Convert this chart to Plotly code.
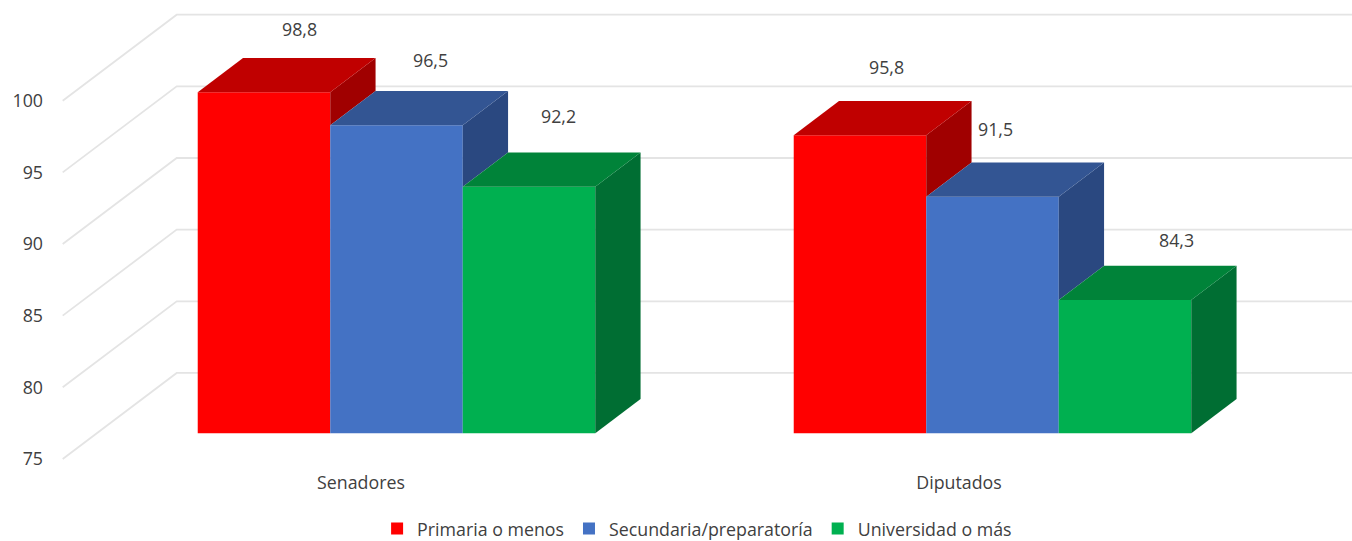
import plotly.graph_objects as go

categories = ["Senadores", "Diputados"]
series_names = ["Primaria o menos", "Secundaria/preparatoría", "Universidad o más"]
primaria = [98.8, 95.8]
secundaria = [96.5, 91.5]
universidad = [92.2, 84.3]
axis_ticks = [75, 80, 85, 90, 95, 100]

series = [primaria, secundaria, universidad]
front = ["#FF0000", "#4472C4", "#00B050"]
top = ["#C00000", "#335593", "#008339"]
side = ["#A00000", "#2A4880", "#006E33"]

W, H = 1352, 541
ML, MB = 50, 71
PH = H - MB
FONT = dict(family="Open Sans", size=17.8, color="#404040")
PPU = 14.33  # pixels per value unit

# axis mappings
cat_px0, cat_px_step = 396.5, 596.0      # bars
lab_px0, lab_px_step = 361.0, 598.0      # category labels
def x_bar(dpx): return dpx / cat_px_step
def x_lab(px): return (px - lab_px0) / lab_px_step
bar_range_x = [(ML - cat_px0) / cat_px_step, (W - cat_px0) / cat_px_step]
lab_range_x = [x_lab(ML), x_lab(W)]
y_tick_range = [100 - (PH - 100.7) / PPU, 100 + 100.7 / PPU]
y_bar_range = [75 - (PH - 433.3) / PPU, 75 + 433.3 / PPU]

BARGAP = 0.333
BW = (1 - BARGAP) / 3
DX, DV = x_bar(45.3), 34.3 / PPU      # bar depth
GRID_DV = 86 / PPU                    # wall depth

fig = go.Figure()

# walls / gridlines
for t in axis_ticks:
    fig.add_trace(go.Scatter(
        x=[x_lab(62.7), x_lab(176.7), lab_range_x[1]], y=[t, t + GRID_DV, t + GRID_DV],
        mode="lines", line=dict(color="#E4E4E4", width=1.8),
        showlegend=False, hoverinfo="skip", xaxis="x", yaxis="y"))

# bar fronts
for name, vals, col in zip(series_names, series, front):
    fig.add_trace(go.Bar(
        x=list(range(len(categories))), y=[v - 75 for v in vals], base=75, name=name,
        marker=dict(color=col, line=dict(width=0)), xaxis="x2", yaxis="y2",
        customdata=vals, hovertemplate="%{customdata}<extra>" + name + "</extra>"))

# bar top and side faces, left to right
for c in range(len(categories)):
    for s, vals in enumerate(series):
        v = vals[c]
        xl = c + (s - 1.5) * BW
        xr = xl + BW
        low = series[s + 1][c] if s < 2 else 75
        fig.add_trace(go.Scatter(
            x=[xr, xr + DX, xr + DX, xr, xr], y=[v, v + DV, low + DV, low, v],
            fill="toself", fillcolor=side[s], mode="lines", line=dict(width=0),
            showlegend=False, hoverinfo="skip", xaxis="x2", yaxis="y2"))
        fig.add_trace(go.Scatter(
            x=[xl, xl + DX, xr + DX, xr, xl], y=[v, v + DV, v + DV, v, v],
            fill="toself", fillcolor=top[s], mode="lines", line=dict(width=0),
            showlegend=False, hoverinfo="skip", xaxis="x2", yaxis="y2"))

# data labels
label_shift = [[(36, 63), (27, 68)], [(34, 65), (3, 68)], [(29, 71), (51, 60)]]
for s, vals in enumerate(series):
    for c, v in enumerate(vals):
        dx, dy = label_shift[s][c]
        fig.add_annotation(
            x=c + (s - 1) * BW, y=v, xref="x2", yref="y2", text=f"{v:.1f}".replace(".", ","),
            showarrow=False, xshift=dx, yshift=dy, font=FONT)

fig.update_layout(
    width=W, height=H, margin=dict(l=ML, r=0, t=0, b=MB),
    paper_bgcolor="white", plot_bgcolor="white", font=FONT,
    barmode="group", bargap=BARGAP, bargroupgap=0,
    xaxis=dict(range=lab_range_x, tickvals=list(range(len(categories))), ticktext=categories,
               showgrid=False, zeroline=False, showline=False, ticks="", ticklabelstandoff=0),
    yaxis=dict(range=y_tick_range, tickvals=axis_ticks, showgrid=False, zeroline=False,
               showline=False, ticks="", ticklabelstandoff=6),
    xaxis2=dict(range=bar_range_x, overlaying="x", visible=False),
    yaxis2=dict(range=y_bar_range, overlaying="y", visible=False),
    legend=dict(orientation="h", x=0.497, xanchor="center", y=12 / H, yanchor="middle",
                yref="container", font=FONT, itemclick=False, itemdoubleclick=False),
)
fig.write_html("out.html", config={"displayModeBar": False},
               post_script="document.body.style.margin='0';document.body.style.overflow='hidden';")
